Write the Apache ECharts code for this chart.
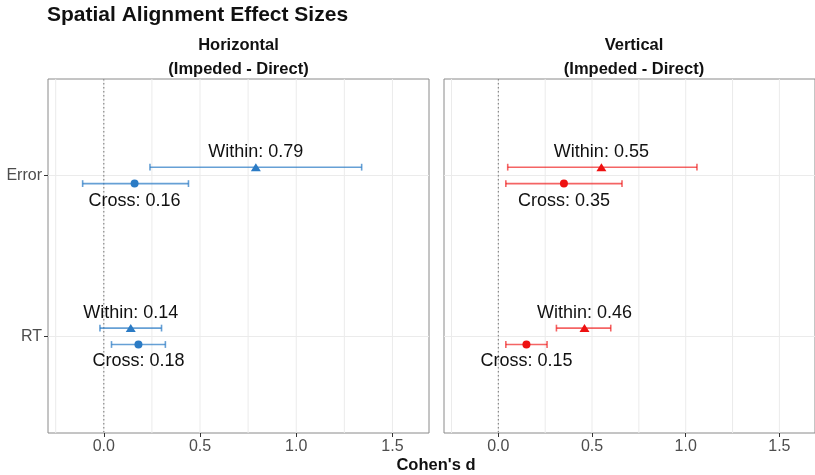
<!DOCTYPE html>
<html>
<head>
<meta charset="utf-8">
<script src="https://cdn.jsdelivr.net/npm/echarts@6/dist/echarts.min.js"></script>
<style>html,body{margin:0;padding:0;background:#fff;}#c{width:815px;height:475px;}</style>
</head>
<body>
<div id="c"></div>
<script>
// ---- data ----
const categories = ['RT', 'Error'];          // y positions 1, 2
const panels = ['Horizontal', 'Vertical'];
const xTicks = [0, 0.5, 1.0, 1.5];
const gridXValues = [-0.25, 0, 0.25, 0.5, 0.75, 1.0, 1.25, 1.5];
const refLine = [0];

// Horizontal panel  (order follows categories: RT, Error)
const hWithin = [0.14, 0.79];
const hWithinLo = [-0.02, 0.24];
const hWithinHi = [0.30, 1.34];
const hCross = [0.18, 0.16];
const hCrossLo = [0.04, -0.11];
const hCrossHi = [0.32, 0.44];

// Vertical panel
const vWithin = [0.46, 0.55];
const vWithinLo = [0.31, 0.05];
const vWithinHi = [0.60, 1.06];
const vCross = [0.15, 0.35];
const vCrossLo = [0.04, 0.04];
const vCrossHi = [0.26, 0.66];

// ---- styling ----
const FONT = '"Liberation Sans", Arial, Helvetica, sans-serif';
const DODGE_W = 0.052, DODGE_C = -0.05;
const colors = {
  Horizontal: { pt: '#2b7bc5', ln: 'rgba(43,123,197,0.72)' },
  Vertical:   { pt: '#ee1111', ln: 'rgba(238,17,17,0.65)' }
};
const XMIN = -0.29, XMAX = 1.69;

const chart = echarts.init(document.getElementById('c'), null, { renderer: 'canvas' });

const grids = [
  { left: 48, top: 79, width: 381, height: 354 },
  { left: 444, top: 79, width: 380, height: 354 }
].map(g => Object.assign(g, { show: true, borderColor: '#8a8a8a', borderWidth: 1, backgroundColor: '#fff', containLabel: false }));

const xAxes = [0, 1].map(i => ({
  type: 'value', gridIndex: i, min: XMIN, max: XMAX,
  axisLine: { show: false, onZero: false },
  splitLine: { show: false },
  axisTick: { show: true, customValues: xTicks, length: 4, lineStyle: { color: '#333' } },
  axisLabel: { customValues: xTicks, formatter: v => v.toFixed(1), color: '#4d4d4d', fontSize: 16, margin: 6, fontFamily: FONT }
}));

const yAxes = [0, 1].map(i => ({
  type: 'value', gridIndex: i, min: 0.4, max: 2.6, position: 'left',
  axisLine: { show: false, onZero: false },
  splitLine: { show: false },
  axisTick: { show: i === 0, customValues: [1, 2], length: 4, lineStyle: { color: '#333' } },
  axisLabel: { show: i === 0, customValues: [1, 2], formatter: v => categories[Math.round(v) - 1], color: '#4d4d4d', fontSize: 16, margin: 6, fontFamily: FONT }
}));

function vLines(gi, values, style, z) {
  return {
    type: 'custom', xAxisIndex: gi, yAxisIndex: gi, z: z, silent: true,
    data: values.map(v => [v]),
    encode: { x: 0 },
    renderItem: (params, api) => {
      const cs = params.coordSys;
      const x = api.coord([api.value(0), 1.5])[0];
      return { type: 'line', shape: { x1: x, y1: cs.y, x2: x, y2: cs.y + cs.height }, style: style };
    }
  };
}
function hLines(gi, values, style, z) {
  return {
    type: 'custom', xAxisIndex: gi, yAxisIndex: gi, z: z, silent: true,
    data: values.map(v => [0, v]),
    encode: { y: 1 },
    renderItem: (params, api) => {
      const cs = params.coordSys;
      const y = api.coord([0, api.value(1)])[1];
      return { type: 'line', shape: { x1: cs.x, y1: y, x2: cs.x + cs.width, y2: y }, style: style };
    }
  };
}
function errBars(gi, lo, hi, dodge, color) {
  return {
    type: 'custom', xAxisIndex: gi, yAxisIndex: gi, z: 3, silent: true,
    data: lo.map((l, k) => [l, hi[k], k + 1 + dodge]),
    encode: { x: [0, 1], y: 2 },
    renderItem: (params, api) => {
      const a = api.coord([api.value(0), api.value(2)]);
      const b = api.coord([api.value(1), api.value(2)]);
      const h = 3.4;
      const st = { stroke: color, lineWidth: 1.6, fill: null };
      return { type: 'group', children: [
        { type: 'line', shape: { x1: a[0], y1: a[1], x2: b[0], y2: b[1] }, style: st },
        { type: 'line', shape: { x1: a[0], y1: a[1] - h, x2: a[0], y2: a[1] + h }, style: st },
        { type: 'line', shape: { x1: b[0], y1: b[1] - h, x2: b[0], y2: b[1] + h }, style: st }
      ] };
    }
  };
}
function points(gi, vals, dodge, name, symbol, size, color, labelOffset) {
  return {
    type: 'scatter', xAxisIndex: gi, yAxisIndex: gi, z: 4, silent: true,
    symbol: symbol, symbolSize: size,
    itemStyle: { color: color, opacity: 1 },
    data: vals.map((v, k) => [v, k + 1 + dodge]),
    label: {
      show: true, position: 'inside', offset: [0, labelOffset],
      formatter: p => name + ': ' + p.value[0].toFixed(2),
      color: '#111', fontSize: 18, fontFamily: FONT
    }
  };
}

const series = [];
[[hWithin, hWithinLo, hWithinHi, hCross, hCrossLo, hCrossHi],
 [vWithin, vWithinLo, vWithinHi, vCross, vCrossLo, vCrossHi]].forEach((d, gi) => {
  const c = colors[panels[gi]];
  series.push(vLines(gi, gridXValues, { stroke: '#ebebeb', lineWidth: 1 }, 0));
  series.push(hLines(gi, [1, 2], { stroke: '#ebebeb', lineWidth: 1 }, 0));
  series.push(vLines(gi, refLine, { stroke: '#808080', lineWidth: 1.1, lineDash: [1.5, 2.5] }, 1));
  series.push(errBars(gi, d[1], d[2], DODGE_W, c.ln));
  series.push(errBars(gi, d[4], d[5], DODGE_C, c.ln));
  series.push(points(gi, d[0], DODGE_W, 'Within', 'triangle', [10, 8], c.pt, -15));
  series.push(points(gi, d[3], DODGE_C, 'Cross', 'circle', 8, c.pt, 17));
});

const T = (text, x, y, size, weight, align) => ({
  type: 'text', x: x, y: y, silent: true,
  style: { text: text, fill: '#111', font: weight + ' ' + size + 'px ' + FONT, textAlign: align, textVerticalAlign: 'middle' }
});

chart.setOption({
  animation: false,
  textStyle: { fontFamily: FONT },
  grid: grids,
  xAxis: xAxes,
  yAxis: yAxes,
  series: series,
  graphic: [
    T('Spatial Alignment Effect Sizes', 47, 15, 21, 'bold', 'left'),
    T(panels[0], 238.5, 45, 16.5, 'bold', 'center'),
    T('(Impeded - Direct)', 238.5, 69, 16.5, 'bold', 'center'),
    T(panels[1], 634, 45, 16.5, 'bold', 'center'),
    T('(Impeded - Direct)', 634, 69, 16.5, 'bold', 'center'),
    T("Cohen's d", 436, 465, 16.5, 'bold', 'center')
  ]
});
</script>
</body>
</html>
